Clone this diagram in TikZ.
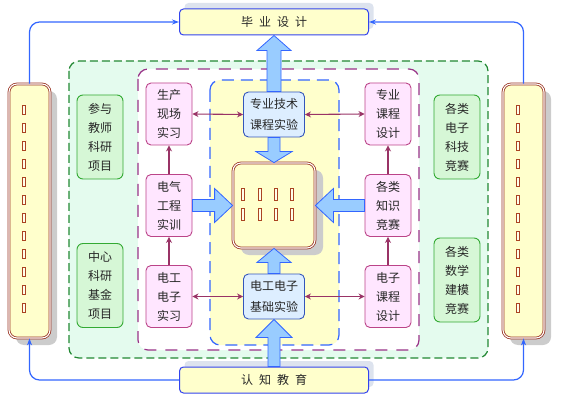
\documentclass[tikz,border=0pt]{standalone}
\usepackage{fontspec}
\setmainfont{Noto Sans CJK SC}
\usetikzlibrary{calc,arrows.meta,shadows}
\definecolor{topfill}{HTML}{FFFFCC}
\definecolor{topline}{HTML}{3344EE}
\definecolor{topshadow}{HTML}{DDE3EE}
\definecolor{sideline}{HTML}{993322}
\definecolor{greyshadow}{HTML}{CCCCCC}
\definecolor{pinkfill}{HTML}{FFE6FF}
\definecolor{pinkline}{HTML}{BB4488}
\definecolor{gboxfill}{HTML}{D6F7D6}
\definecolor{gboxline}{HTML}{33AA33}
\definecolor{bboxfill}{HTML}{DDEEFF}
\definecolor{bboxline}{HTML}{3355BB}
\definecolor{regfill}{HTML}{E4FBEE}
\definecolor{regline}{HTML}{228833}
\definecolor{purpline}{HTML}{993388}
\definecolor{bregline}{HTML}{3366FF}
\definecolor{bigfill}{HTML}{99CCFF}
\definecolor{bigline}{HTML}{3366FF}
\definecolor{thinline}{HTML}{993366}
\definecolor{connline}{HTML}{3366FF}
\definecolor{tofuline}{HTML}{AA4422}
\newcommand\blockarr[5]{%
  \coordinate (hb) at ($(#2)!#5pt!(#1)$);
  \draw[bigarrow] ($(#1)!#3pt!90:(#2)$) -- ($(hb)!#3pt!-90:(#1)$) -- ($(hb)!#4pt!-90:(#1)$) -- (#2) -- ($(hb)!#4pt!90:(#1)$) -- ($(hb)!#3pt!90:(#1)$) -- ($(#1)!#3pt!-90:(#2)$) -- cycle;}
\begin{document}
\begin{tikzpicture}[x=1pt,y=-1pt,
  txt/.style={font=\fontsize{12}{19}\selectfont, align=center, inner sep=0pt, text=black!85},
  topbox/.style={txt, draw=topline, fill=topfill, line width=1pt, rounded corners=4pt,
    minimum width=189pt, minimum height=26pt,
    drop shadow={shadow xshift=5pt, shadow yshift=6pt, fill=topshadow, opacity=1}},
  sidebox/.style={draw=sideline, double=white, line width=0.8pt, double distance=1.1pt,
    fill=topfill, rounded corners=8pt, minimum width=41pt, minimum height=254pt,
    drop shadow={shadow xshift=7pt, shadow yshift=-7pt, fill=greyshadow, opacity=1}},
  centerbox/.style={draw=sideline, double=white, line width=0.8pt, double distance=1.1pt,
    fill=topfill, rounded corners=8pt, minimum width=82pt, minimum height=85pt,
    drop shadow={shadow xshift=8pt, shadow yshift=-7pt, fill=greyshadow, opacity=1}},
  pinkbox/.style={txt, draw=pinkline, fill=pinkfill, line width=0.9pt, rounded corners=5pt,
    minimum width=46pt, minimum height=62pt},
  greenbox/.style={txt, draw=gboxline, fill=gboxfill, line width=0.9pt, rounded corners=6pt,
    minimum width=46pt, minimum height=84pt},
  bluebox/.style={txt, font=\fontsize{12}{21}\selectfont, draw=bboxline, fill=bboxfill,
    line width=0.9pt, rounded corners=5pt, minimum width=61pt, minimum height=45pt},
  tofu/.style={draw=tofuline, line width=0.6pt, fill=white!60!topfill, inner sep=0pt,
    minimum width=3.5pt, minimum height=9pt},
  bigtofu/.style={tofu, minimum height=12pt},
  bigarrow/.style={draw=bigline, fill=bigfill, line width=0.8pt, line join=miter},
  thinarr/.style={draw=thinline, line width=1.1pt},
  tip/.tip={Stealth[length=6pt,width=6pt]},
  conn/.style={draw=connline, line width=1.2pt, rounded corners=10pt, -{Stealth[length=7pt,width=5pt]}}
]
\useasboundingbox (0,0) rectangle (564,403);
% regions
\draw[regline, fill=regfill, line width=1.2pt, dash pattern=on 8pt off 4pt, rounded corners=10pt]
  (69,61) rectangle (488,358);
\draw[purpline, fill=white, line width=1.2pt, dash pattern=on 12pt off 9pt, rounded corners=10pt]
  (138,69) rectangle (419,350);
\draw[bregline, fill=topfill, line width=1.2pt, dash pattern=on 12pt off 7pt, rounded corners=10pt]
  (210,80) rectangle (339,345);
% main nodes
\node[topbox] (top) at (274,22) {毕\hspace{6pt}业\hspace{6pt}设\hspace{6pt}计};
\node[topbox] (bot) at (274,380) {认\hspace{6pt}知\hspace{6pt}教\hspace{6pt}育};
\node[sidebox] (L) at (29.5,211) {};
\node[sidebox] (R) at (523.5,211) {};
\node[centerbox] (C) at (274,205.5) {};
\foreach \i in {0,...,11} {
  \node[tofu] (lt\i) at (24,110+18*\i) {};
  \node[tofu] (rt\i) at (518,110+18*\i) {};
}
\foreach \xx [count=\k] in {243,260,276,292} {
  \node[bigtofu] (ca\k) at (\xx,194.5) {};
  \node[bigtofu] (cb\k) at (\xx,214) {};
}
\node[greenbox] (G1) at (100,137) {参与\\教师\\科研\\项目};
\node[greenbox] (G2) at (100,285.5) {中心\\科研\\基金\\项目};
\node[greenbox] (G3) at (457,137) {各类\\电子\\科技\\竞赛};
\node[greenbox] (G4) at (457,280) {各类\\数学\\建模\\竞赛};
\node[pinkbox] (P1) at (169,114) {生产\\现场\\实习};
\node[pinkbox] (P2) at (169,205.5) {电气\\工程\\实训};
\node[pinkbox] (P3) at (169,296.5) {电工\\电子\\实习};
\node[pinkbox] (P4) at (388,114) {专业\\课程\\设计};
\node[pinkbox] (P5) at (388,205.5) {各类\\知识\\竞赛};
\node[pinkbox] (P6) at (388,296.5) {电子\\课程\\设计};
\node[bluebox] (B1) at (274,114.5) {专业技术\\课程实验};
\node[bluebox] (B2) at (274,296.5) {电工电子\\基础实验};
% big arrows
\blockarr{B1.north}{top.south}{7}{17}{15}
\blockarr{B1.south}{C.north}{6}{18}{11}
\blockarr{P2.east}{C.west}{6}{17}{18}
\blockarr{P5.west}{C.east}{6}{17}{18}
\blockarr{B2.north}{C.south}{6}{17}{14}
\blockarr{bot.north}{B2.south}{6}{18}{18}
% thin arrows
\draw[thinarr, tip-tip] (P1.east) -- (B1.west);
\draw[thinarr, tip-tip] (B1.east) -- (P4.west);
\draw[thinarr, tip-tip] (P3.east) -- (B2.west);
\draw[thinarr, tip-tip] (B2.east) -- (P6.west);
\draw[thinarr, -tip] (P2.north) -- (P1.south);
\draw[thinarr, -tip] (P3.north) -- (P2.south);
\draw[thinarr, -tip] (P5.north) -- (P4.south);
\draw[thinarr, -tip] (P6.north) -- (P5.south);
% connectors
\draw[conn] (L.north) |- (top.west);
\draw[conn] (R.north) |- (top.east);
\draw[conn] (bot.west) -| (L.south);
\draw[conn] (bot.east) -| (R.south);
\end{tikzpicture}
\end{document}
